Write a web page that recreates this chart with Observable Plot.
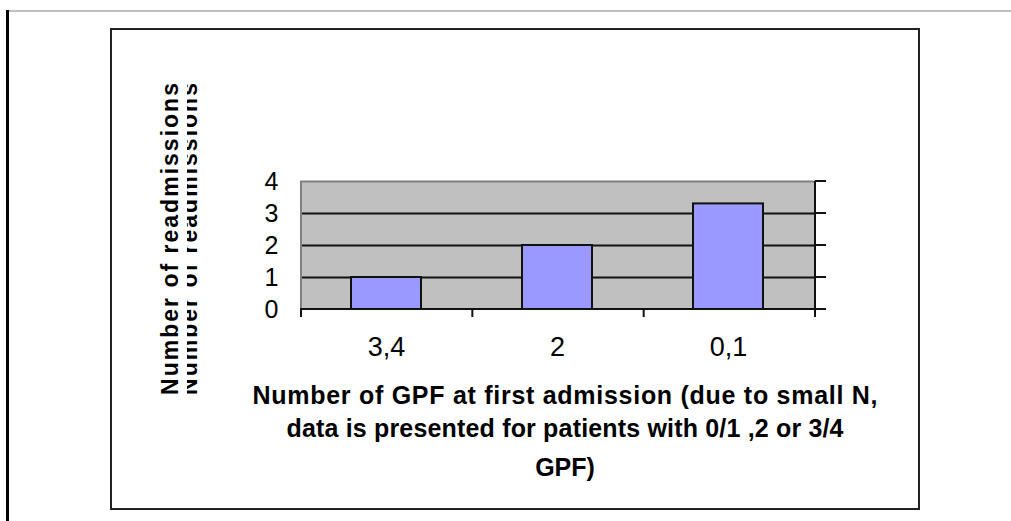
<!DOCTYPE html>
<html>
<head>
<meta charset="utf-8">
<script src="https://cdn.jsdelivr.net/npm/d3@7"></script>
<script src="https://cdn.jsdelivr.net/npm/@observablehq/plot@0.6"></script>
<style>
  body { margin: 0; background: #fff; }
  #page { position: relative; width: 1011px; height: 521px; overflow: hidden;
          font-family: "Liberation Sans", Arial, sans-serif; }
  #rule-top { position: absolute; left: 9px; top: 10px; width: 1002px; height: 0;
              border-top: 2px solid #c0c0c0; }
  #rule-left { position: absolute; left: 6px; top: 10px; width: 3px; height: 511px; background: #000; }
  #frame { position: absolute; left: 110px; top: 28px; width: 806px; height: 478px;
           border: 2px solid #222; }
  #chart { position: absolute; left: 0; top: 0; }
</style>
</head>
<body>
<div id="page">
  <div id="rule-top"></div>
  <div id="rule-left"></div>
  <div id="frame"></div>
  <div id="chart"></div>
</div>
<script>
// GPF groups at first admission and mean number of readmissions per group
const categories = ["3,4", "2", "0,1"];
const readmissions = [1, 2, 3.3];
const yTicks = [0, 1, 2, 3, 4];
const gridValues = [1, 2, 3];
const yTitle = "Number of readmissions";
const xTitleLines = [
  "Number of GPF at first admission (due to small N,",
  "data is presented for patients with 0/1 ,2 or 3/4",
  "GPF)"
];

const rows = categories.map((group, i) => ({group, value: readmissions[i]}));

const chart = Plot.plot({
  width: 1011,
  height: 521,
  marginLeft: 300,
  marginRight: 196,
  marginTop: 181,
  marginBottom: 212,
  style: {
    fontFamily: "'Liberation Sans', Arial, sans-serif",
    fontSize: "25px",
    color: "#000",
    background: "transparent",
    overflow: "visible"
  },
  x: {domain: categories, paddingInner: 0.59, paddingOuter: 0.295, label: null,
      tickSize: 0, tickPadding: 27},
  y: {domain: [0, 4], ticks: yTicks, tickFormat: "d", label: null, tickSize: 0, tickPadding: 22},
  marks: [
    Plot.frame({fill: "#c0c0c0", stroke: null}),
    Plot.ruleY([4], {stroke: "#808080", strokeWidth: 2}),
    Plot.ruleY(gridValues, {stroke: "#111", strokeWidth: 2}),
    Plot.barY(rows, {x: "group", y: "value", fill: "#9999ff", stroke: "#111", strokeWidth: 2})
  ]
});

const svg = d3.select(chart);
// Tick labels: larger type than the library default
svg.selectAll("text").attr("fill", "#000");
svg.selectAll("g[aria-label^='y'] text").style("font-size", "25px");
svg.selectAll("g[aria-label^='x'] text").style("font-size", "27px");

// Plot-area edges, right-hand tick marks and category boundary ticks
const xs = chart.scale("x");
const ys = chart.scale("y");
const yScale = d3.scaleLinear(ys.domain, ys.range);
const [xL, xR] = xs.range;
const yBottom = yScale(0), yTop = yScale(4);
const edges = svg.append("g").attr("stroke-linecap", "butt").attr("fill", "none");
edges.append("line").attr("x1", xL + 1).attr("x2", xL + 1).attr("y1", yTop).attr("y2", yBottom)
  .attr("stroke", "#808080").attr("stroke-width", 2);
edges.append("line").attr("x1", xR).attr("x2", xR).attr("y1", yTop).attr("y2", yBottom + 8)
  .attr("stroke", "#111").attr("stroke-width", 2);
edges.append("line").attr("x1", xL).attr("x2", xR).attr("y1", yBottom).attr("y2", yBottom)
  .attr("stroke", "#111").attr("stroke-width", 2);
for (const v of yTicks) {
  edges.append("line").attr("x1", xR).attr("x2", xR + 11)
    .attr("y1", yScale(v)).attr("y2", yScale(v)).attr("stroke", "#111").attr("stroke-width", 2);
}
const n = categories.length;
for (let i = 0; i <= n; i++) {
  const bx = xL + 1 + i * (xR - xL - 1) / n;
  edges.append("line").attr("x1", bx).attr("x2", bx).attr("y1", yBottom).attr("y2", yBottom + 8)
    .attr("stroke", "#111").attr("stroke-width", 2);
}

// Axis titles
const titleFont = "'Liberation Sans', Arial, sans-serif";
const defs = svg.append("defs");
defs.append("clipPath").attr("id", "ghost-clip")
  .append("rect").attr("x", 187).attr("y", 60).attr("width", 11).attr("height", 360);
svg.append("text")
  .attr("transform", "translate(178,239) rotate(-90)")
  .attr("text-anchor", "middle").attr("font-family", titleFont).attr("font-weight", "bold")
  .attr("font-size", 23).attr("fill", "#000")
  .attr("textLength", 312).attr("lengthAdjust", "spacing")
  .text(yTitle);
svg.append("g").attr("clip-path", "url(#ghost-clip)")
  .append("text")
  .attr("transform", "translate(197,239) rotate(-90)")
  .attr("text-anchor", "middle").attr("font-family", titleFont).attr("font-weight", "bold")
  .attr("font-size", 23).attr("fill", "#000")
  .attr("textLength", 312).attr("lengthAdjust", "spacing")
  .text(yTitle);

const lineBaselines = [404, 437, 476];
const lineLengths = [625, 557, null];
xTitleLines.forEach((t, i) => {
  const el = svg.append("text")
    .attr("x", 565).attr("y", lineBaselines[i])
    .attr("text-anchor", "middle").attr("font-family", titleFont).attr("font-weight", "bold")
    .attr("font-size", 25).attr("fill", "#000")
    .text(t);
  if (lineLengths[i]) el.attr("textLength", lineLengths[i]).attr("lengthAdjust", "spacing");
});

document.getElementById("chart").appendChild(chart);
</script>
</body>
</html>
